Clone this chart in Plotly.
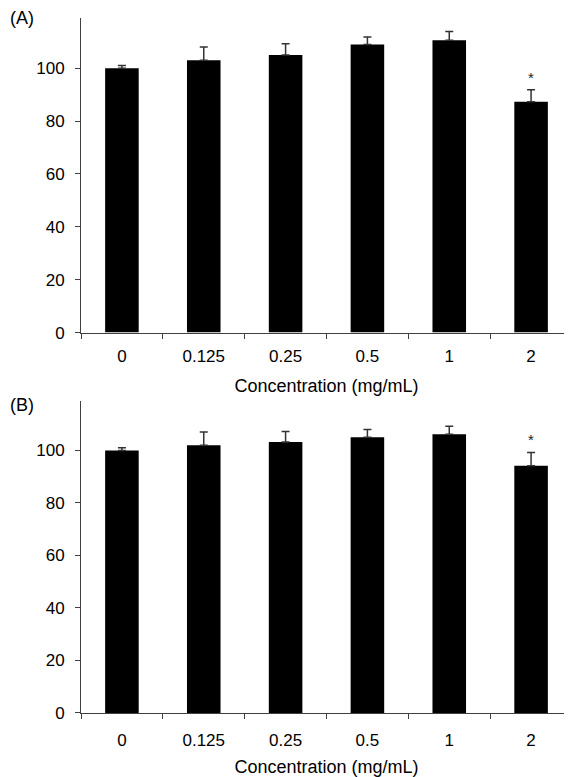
import plotly.graph_objects as go

categories = ["0", "0.125", "0.25", "0.5", "1", "2"]
values_a = [100, 103, 105, 109, 110.6, 87.3]
errors_a = [1, 5, 4.3, 2.8, 3.3, 4.6]
values_b = [100, 102, 103.2, 105, 106.2, 94.2]
errors_b = [1, 5, 4, 3, 3, 5]
star_cat = "2"
star_a = 96.6
star_b = 104.3
y_ticks = [0, 20, 40, 60, 80, 100]

FONT = "Liberation Sans, Arial, sans-serif"
AXC = "#404040"
star_idx = categories.index(star_cat)

fig = go.Figure()
fig.add_trace(go.Bar(x=categories, y=values_a, width=0.41, marker=dict(color="black", line=dict(width=0)),
                     error_y=dict(type="data", array=errors_a, symmetric=False, arrayminus=[0]*6,
                                  color="#333333", thickness=1.5, width=4),
                     xaxis="x", yaxis="y", showlegend=False))
fig.add_trace(go.Bar(x=categories, y=values_b, width=0.41, marker=dict(color="black", line=dict(width=0)),
                     error_y=dict(type="data", array=errors_b, symmetric=False, arrayminus=[0]*6,
                                  color="#333333", thickness=1.5, width=4),
                     xaxis="x2", yaxis="y2", showlegend=False))

xcommon = dict(type="category", showline=True, linecolor=AXC, linewidth=1, ticks="outside",
               ticklen=5, tickcolor=AXC, tickson="boundaries", showgrid=False, zeroline=False,
               tickfont=dict(size=17, color="black"), automargin=False)
ycommon = dict(range=[0, 119], tickvals=y_ticks, showline=True, linecolor=AXC, linewidth=1,
               ticks="outside", ticklen=5, tickcolor=AXC, showgrid=False, zeroline=False,
               tickfont=dict(size=17, color="black"), ticklabelstandoff=7, automargin=False)
xtitle = "Concentration (mg/mL)"

fig.update_layout(
    width=564, height=769,
    margin=dict(l=73, r=0, t=10, b=64),
    paper_bgcolor="white", plot_bgcolor="white",
    font=dict(family=FONT, color="black"),
    xaxis=dict(domain=[0, 1], anchor="y", ticklabelstandoff=8,
               title=dict(text=xtitle, font=dict(size=18, color="black"), standoff=14), **xcommon),
    yaxis=dict(domain=[0.5474, 1], anchor="x", **ycommon),
    xaxis2=dict(domain=[0, 1], anchor="y2", ticklabelstandoff=12,
                title=dict(text=xtitle, font=dict(size=18, color="black"), standoff=12), **xcommon),
    yaxis2=dict(domain=[0, 0.4496], anchor="x2", **ycommon),
    annotations=[
        dict(text="(A)", xref="paper", yref="paper", x=-0.1487, y=1.0, xanchor="left", yanchor="middle",
             showarrow=False, font=dict(size=18, color="black")),
        dict(text="(B)", xref="paper", yref="paper", x=-0.1487, y=0.4425, xanchor="left", yanchor="middle",
             showarrow=False, font=dict(size=18, color="black")),
        dict(text="*", xref="x", yref="y", x=star_idx, y=star_a, yanchor="middle", showarrow=False,
             font=dict(size=15, color="#222222")),
        dict(text="*", xref="x2", yref="y2", x=star_idx, y=star_b, yanchor="middle", showarrow=False,
             font=dict(size=15, color="#222222")),
    ],
)

fig.write_html("out.html")
